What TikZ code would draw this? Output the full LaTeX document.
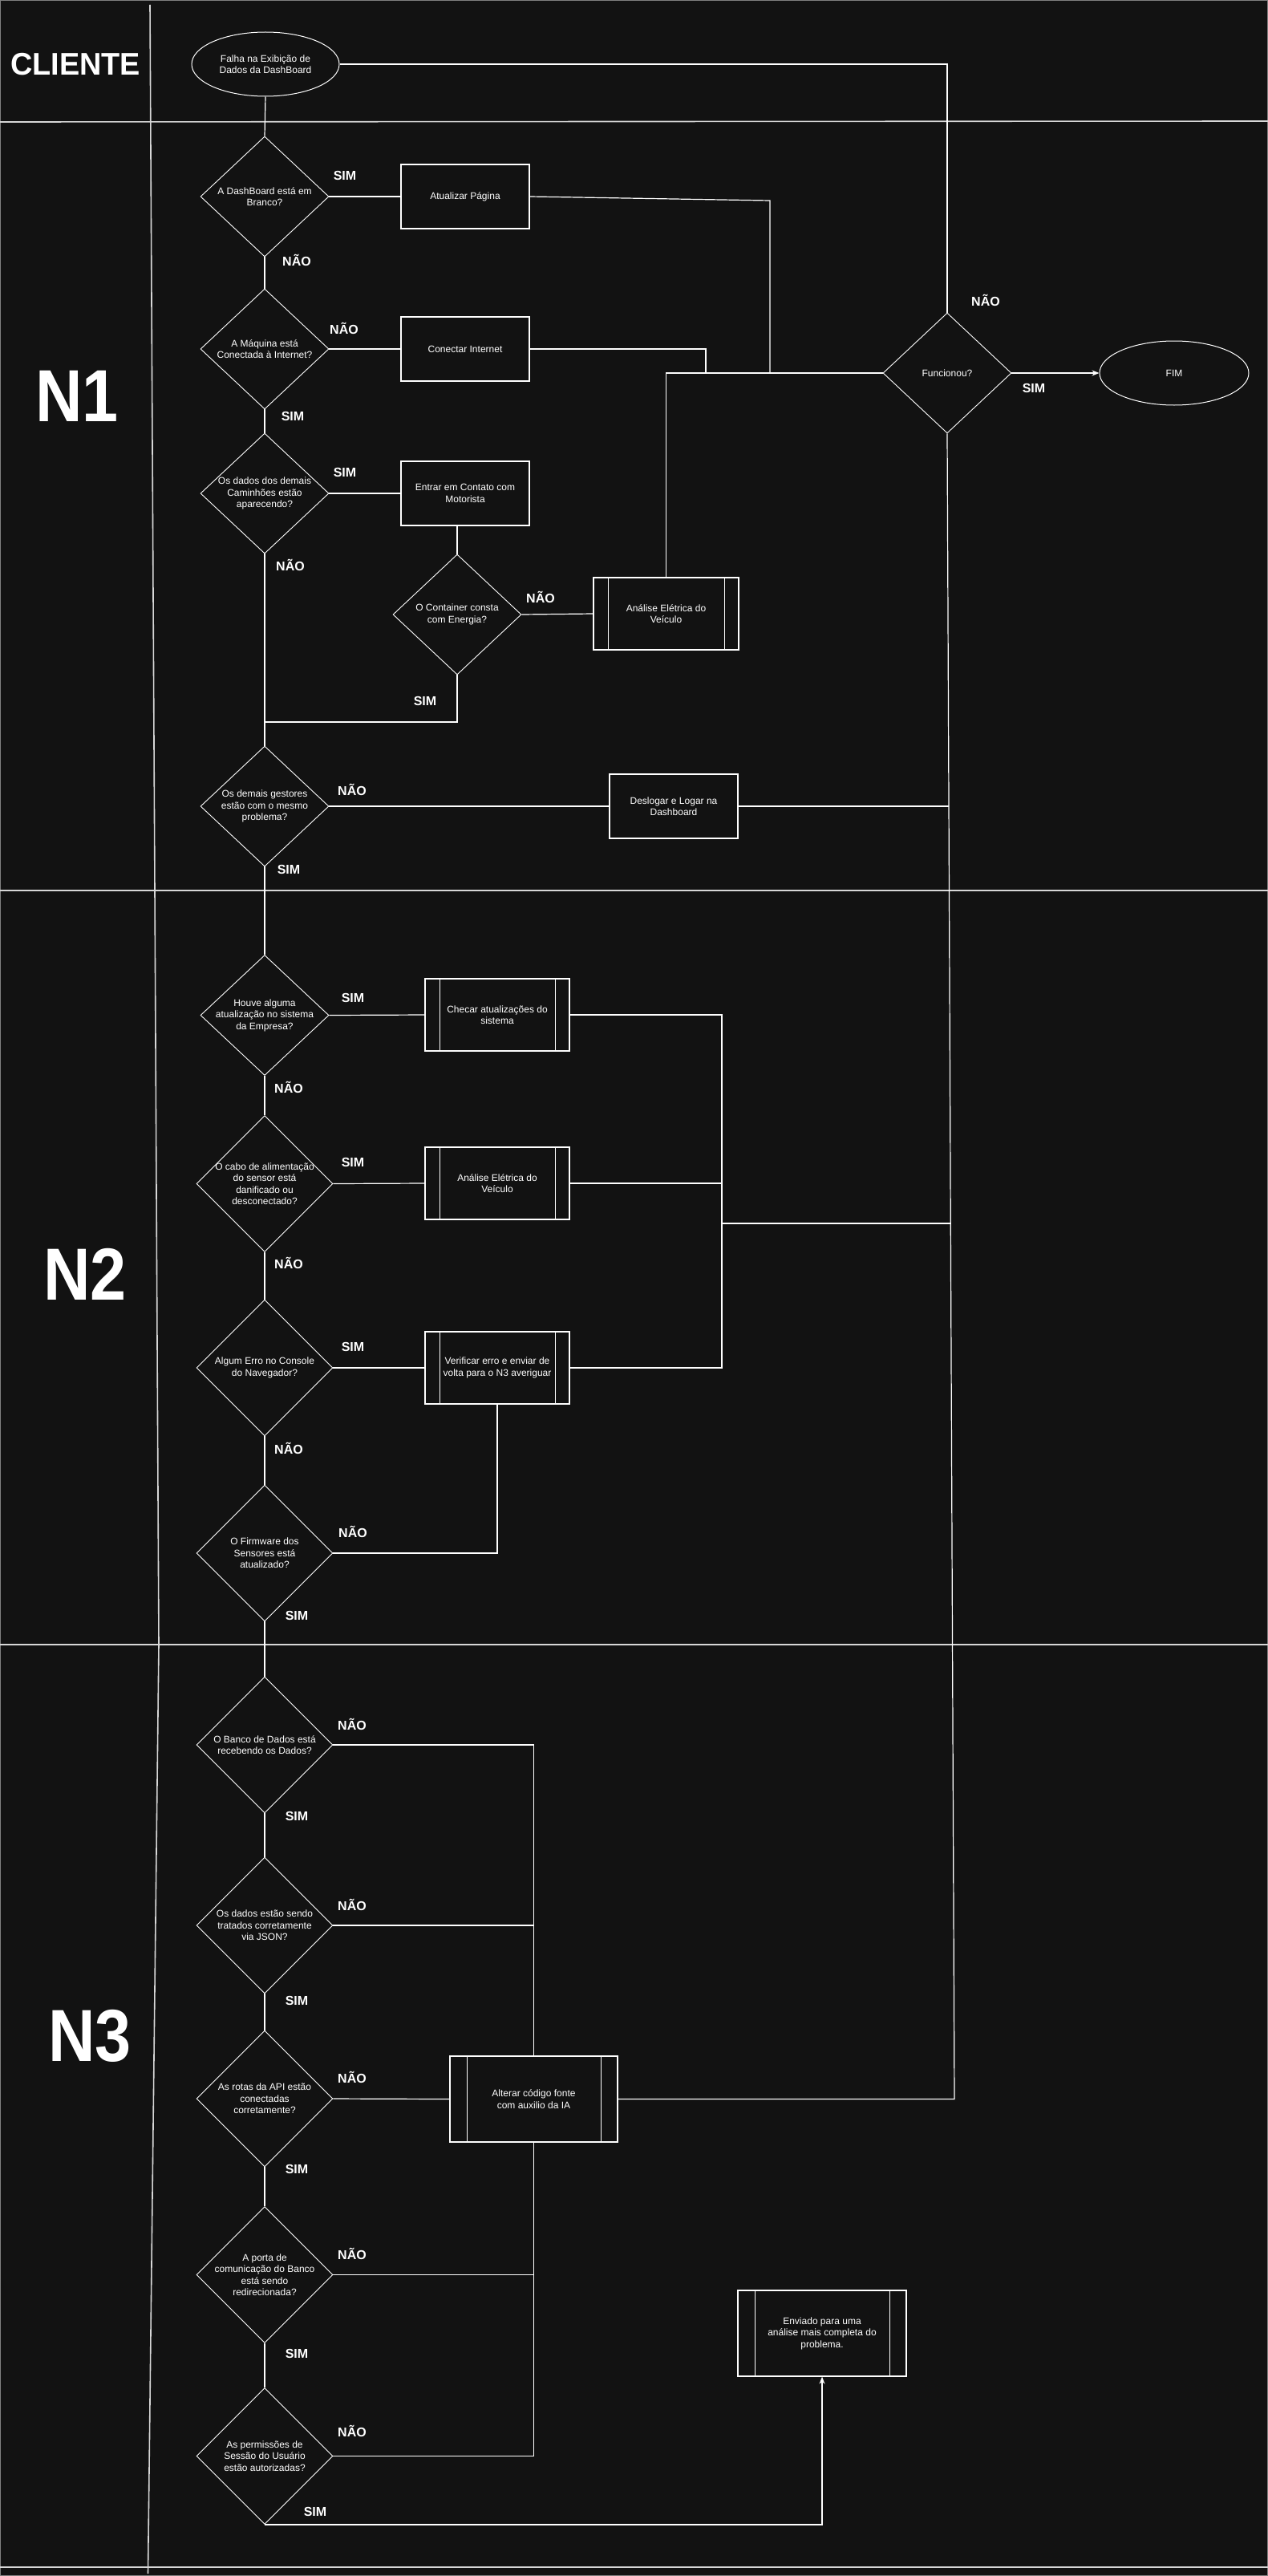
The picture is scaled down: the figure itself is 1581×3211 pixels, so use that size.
\documentclass[tikz,border=0pt]{standalone}
\usepackage{fontspec}
\setmainfont{Liberation Sans}
\usetikzlibrary{shapes.geometric,arrows.meta,calc}
\definecolor{bg}{RGB}{18,18,18}
\definecolor{lanec}{RGB}{215,215,215}
\begin{document}
\begin{tikzpicture}[x=1pt,y=-1pt,
  ln/.style={draw=white, line width=1.2pt},
  lanel/.style={draw=lanec, line width=1.6pt},
  txtf/.style={text=white, font=\fontsize{12}{14.5}\selectfont, align=center},
  dia/.style={shape=diamond, draw=white, line width=0.9pt, inner sep=0pt, minimum width=160pt, minimum height=150pt},
  diab/.style={dia, minimum width=170pt, minimum height=170pt},
  dtxt/.style={txtf, inner sep=0pt},
  box/.style={rectangle, draw=white, line width=1.1pt, inner sep=0pt, minimum width=160pt, minimum height=80pt, txtf},
  procA/.style={box, minimum width=180pt, minimum height=90pt,
    path picture={\draw[white,line width=0.9pt]
      ([xshift=18pt]path picture bounding box.north west) -- ([xshift=18pt]path picture bounding box.south west)
      ([xshift=-18pt]path picture bounding box.north east) -- ([xshift=-18pt]path picture bounding box.south east);}},
  procB/.style={box, minimum width=209pt, minimum height=107pt,
    path picture={\draw[white,line width=0.9pt]
      ([xshift=21pt]path picture bounding box.north west) -- ([xshift=21pt]path picture bounding box.south west)
      ([xshift=-21pt]path picture bounding box.north east) -- ([xshift=-21pt]path picture bounding box.south east);}},
  term/.style={shape=ellipse, draw=white, line width=1pt, inner sep=0pt, minimum width=184pt, minimum height=80pt, txtf},
  lbl/.style={text=white, font=\fontsize{16}{19}\bfseries\selectfont, inner sep=0pt},
  lane/.style={text=white, font=\fontsize{92}{100}\bfseries\selectfont, inner sep=0pt, xscale=0.88},
  tip/.style={-{Stealth[length=9pt,width=7pt]}}
]
\useasboundingbox (0,0) rectangle (1581,3211);
\fill[bg] (0,0) rectangle (1581,3211);
\draw[gray, line width=1pt] (0.5,0.5) rectangle (1580.5,3210.5);

% ---------- lanes ----------
\draw[lanel] (0,152) -- (1581,151);
\draw[lanel] (0,1110) -- (1581,1110);
\draw[lanel] (0,2050) -- (1581,2050);
\draw[lanel] (0,3200) -- (1581,3200);
\draw[lanel] (187,6) -- (193,1110) -- (198,2050) -- (184.5,3208);

\node[text=white, font=\fontsize{39}{44}\bfseries\selectfont, inner sep=0pt, xscale=0.97] (cli) at (94,80) {CLIENTE};
\node[lane] (ln1) at (96,494) {N1};
\node[lane] (ln2) at (106,1588) {N2};
\node[lane] (ln3) at (112,2538) {N3};

% ---------- nodes ----------
\node[term] (falha) at (331,80) {Falha na Exibição de\\Dados da DashBoard};
\node[term, minimum width=186pt] (fim) at (1464,465) {FIM};

\node[dia, label={[dtxt]center:{A DashBoard está em\\Branco?}}] (d1) at (330,245) {};
\node[dia, label={[dtxt]center:{A Máquina está\\Conectada à Internet?}}] (d2) at (330,435) {};
\node[dia, label={[dtxt]center:{Os dados dos demais\\Caminhões estão\\aparecendo?}}] (d3) at (330,615) {};
\node[dia, label={[dtxt]center:{O Container consta\\com Energia?}}] (cont) at (570,766) {};
\node[dia, label={[dtxt]center:{Os demais gestores\\estão com o mesmo\\problema?}}] (d4) at (330,1005) {};
\node[dia, label={[dtxt]center:{Funcionou?}}] (fun) at (1181,465) {};

\node[box] (atu) at (580,245) {Atualizar Página};
\node[box] (con) at (580,435) {Conectar Internet};
\node[box] (ent) at (580,615) {Entrar em Contato com\\Motorista};
\node[procA, minimum width=181pt] (ana1) at (830.5,765) {Análise Elétrica do\\Veículo};
\node[box] (des) at (840,1005) {Deslogar e Logar na\\Dashboard};

% N2
\node[dia, label={[dtxt]center:{Houve alguma\\atualização no sistema\\da Empresa?}}] (e1) at (330,1265.5) {};
\node[diab, label={[dtxt]center:{O cabo de alimentação\\do sensor está\\danificado ou\\desconectado?}}] (e2) at (330,1475.5) {};
\node[diab, label={[dtxt]center:{Algum Erro no Console\\do Navegador?}}] (e3) at (330,1705) {};
\node[diab, label={[dtxt]center:{O Firmware dos\\Sensores está\\atualizado?}}] (e4) at (330,1936) {};

\node[procA] (chk) at (620,1265) {Checar atualizações do\\sistema};
\node[procA] (an2) at (620,1475) {Análise Elétrica do\\Veículo};
\node[procA] (ver) at (620,1705) {Verificar erro e enviar de\\volta para o N3 averiguar};

% N3
\node[diab, label={[dtxt]center:{O Banco de Dados está\\recebendo os Dados?}}] (f1) at (330,2175) {};
\node[diab, label={[dtxt]center:{Os dados estão sendo\\tratados corretamente\\via JSON?}}] (f2) at (330,2400) {};
\node[diab, label={[dtxt]center:{As rotas da API estão\\conectadas\\corretamente?}}] (f3) at (330,2616) {};
\node[diab, label={[dtxt]center:{A porta de\\comunicação do Banco\\está sendo\\redirecionada?}}] (f4) at (330,2835.5) {};
\node[diab, label={[dtxt]center:{As permissões de\\Sessão do Usuário\\estão autorizadas?}}] (f5) at (330,3061.5) {};

\node[procB] (alt) at (665.5,2616.5) {Alterar código fonte\\com auxilio da IA};
\node[procB, minimum width=210pt] (env) at (1025,2908.5) {Enviado para uma\\análise mais completa do\\problema.};

% ---------- junction coordinates ----------
\coordinate (ja) at (960,250);
\coordinate (jb) at (880,465);
\coordinate (jc) at (330,900);
\coordinate (jd) at (1183,1005);
\coordinate (je) at (1190,2616.5);
\coordinate (jf) at (900,1265);
\coordinate (jg) at (900,1525);
\coordinate (jh) at (1185,1525);

% ---------- connectors ----------
\draw[ln] (falha.south) -- (d1.north);
\draw[ln] (falha.east) -| (fun.north);
\draw[ln] (d1.east) -- (atu.west);
\draw[ln] (atu.east) -- (ja) -- (ja|-fun.west);
\draw[ln] (d1.south) -- (d2.north);
\draw[ln] (d2.east) -- (con.west);
\draw[ln] (con.east) -| (jb);
\draw[ln] (d2.south) -- (d3.north);
\draw[ln] (d3.east) -- (ent.west);
\draw[ln] (cont.north|-ent.south) -- (cont.north);
\draw[ln] (cont.east) -- (ana1.west);
\draw[ln] (ana1.north) |- (fun.west);
\draw[ln] (cont.south) |- (jc);
\draw[ln] (d3.south) -- (d4.north);
\draw[ln] (d4.east) -- (des.west);
\draw[ln] (des.east) -- (jd);
\draw[ln, tip] (fun.east) -- (fim.west);
\draw[ln] (fun.south) -- (je) -- (alt.east);

\draw[ln] (d4.south) -- (e1.north);
\draw[ln] (e1.east) -- (chk.west);
\draw[ln] (chk.east) -- (jf) |- (ver.east);
\draw[ln] (an2.east) -- (an2.east -| jf);
\draw[ln] (jg) -- (jh);
\draw[ln] (e1.south) -- (e2.north);
\draw[ln] (e2.east) -- (an2.west);
\draw[ln] (e2.south) -- (e3.north);
\draw[ln] (e3.east) -- (ver.west);
\draw[ln] (e3.south) -- (e4.north);
\draw[ln] (e4.east) -| (ver.south);

\draw[ln] (e4.south) -- (f1.north);
\draw[ln] (f1.east) -| (alt.north);
\draw[ln] (f2.east) -- (f2.east -| alt.north);
\draw[ln] (f1.south) -- (f2.north);
\draw[ln] (f2.south) -- (f3.north);
\draw[ln] (f3.east) -- (alt.west);
\draw[ln] (f3.south) -- (f4.north);
\draw[ln] (f4.east) -- (f4.east -| alt.south);
\draw[ln] (f4.south) -- (f5.north);
\draw[ln] (alt.south) |- (f5.east);
\draw[ln, tip] (f5.south) -| (env.south);

% ---------- labels ----------
\node[lbl] (s1) at (430,219) {SIM};
\node[lbl] (n1) at (370,324) {NÃO};
\node[lbl] (n2) at (429,409) {NÃO};
\node[lbl] (s2) at (365,519) {SIM};
\node[lbl] (s3) at (430,589) {SIM};
\node[lbl] (n3) at (362,704) {NÃO};
\node[lbl] (n4) at (674,744) {NÃO};
\node[lbl] (s4) at (530,874) {SIM};
\node[lbl] (n5) at (439,984) {NÃO};
\node[lbl] (s5) at (360,1084) {SIM};
\node[lbl] (n6) at (1229,374) {NÃO};
\node[lbl] (s6) at (1289,484) {SIM};

\node[lbl] (s7) at (440,1244) {SIM};
\node[lbl] (n7) at (360,1355) {NÃO};
\node[lbl] (s8) at (440,1449) {SIM};
\node[lbl] (n8) at (360,1574) {NÃO};
\node[lbl] (s9) at (440,1679) {SIM};
\node[lbl] (n9) at (360,1805) {NÃO};
\node[lbl] (n10) at (440,1909) {NÃO};
\node[lbl] (s10) at (370,2014) {SIM};

\node[lbl] (n11) at (439,2149) {NÃO};
\node[lbl] (s11) at (370,2264) {SIM};
\node[lbl] (n12) at (439,2374) {NÃO};
\node[lbl] (s12) at (370,2494) {SIM};
\node[lbl] (n13) at (439,2589) {NÃO};
\node[lbl] (s13) at (370,2704) {SIM};
\node[lbl] (n14) at (439,2809) {NÃO};
\node[lbl] (s14) at (370,2934) {SIM};
\node[lbl] (n15) at (439,3030) {NÃO};
\node[lbl] (s15) at (393,3131) {SIM};
\end{tikzpicture}
\end{document}
